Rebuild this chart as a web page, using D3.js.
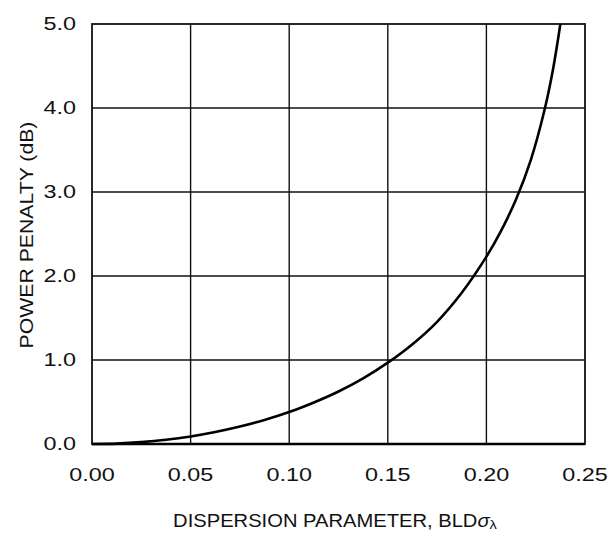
<!DOCTYPE html>
<html>
<head>
<meta charset="utf-8">
<script src="https://cdn.jsdelivr.net/npm/d3@7"></script>
<style>
  html, body { margin: 0; padding: 0; background: #fff; }
  text { font-family: "Liberation Sans", Arial, Helvetica, sans-serif; fill: #111; }
</style>
</head>
<body>
<svg id="chart" width="610" height="534"></svg>
<script>
// Data
const dispersion = [0, 0.0125, 0.025, 0.0375, 0.05, 0.0625, 0.075, 0.0875, 0.10, 0.1125, 0.125, 0.1375, 0.15, 0.1625, 0.175, 0.1875, 0.20, 0.2075, 0.215, 0.2225, 0.2294, 0.2337, 0.2375];
const penalty    = [0, 0.005, 0.022, 0.050, 0.090, 0.143, 0.208, 0.287, 0.38, 0.494, 0.625, 0.781, 0.968, 1.188, 1.455, 1.80, 2.23, 2.54, 2.91, 3.38, 3.97, 4.45, 5.0];
const xTicks = [0, 0.05, 0.10, 0.15, 0.20, 0.25];
const yTicks = [0, 1, 2, 3, 4, 5];
const xTickLabels = ["0.00", "0.05", "0.10", "0.15", "0.20", "0.25"];
const yTickLabels = ["0.0", "1.0", "2.0", "3.0", "4.0", "5.0"];
const xTitle = "DISPERSION PARAMETER, BLD";
const yTitle = "POWER PENALTY (dB)";

const m = {left: 92, right: 585, top: 24, bottom: 444};
const stretch = 1.3;
const svg = d3.select("#chart");

const x = d3.scaleLinear().domain([0, 0.25]).range([m.left, m.right]);
const y = d3.scaleLinear().domain([0, 5]).range([m.bottom, m.top]);

// grid
const grid = svg.append("g");
grid.selectAll("line.v").data(xTicks.slice(1, -1)).join("line")
  .attr("x1", d => x(d)).attr("x2", d => x(d))
  .attr("y1", m.top).attr("y2", m.bottom)
  .attr("stroke", "#111").attr("stroke-width", 1.4);
grid.selectAll("line.h").data(yTicks.slice(1, -1)).join("line")
  .attr("x1", m.left).attr("x2", m.right)
  .attr("y1", d => y(d)).attr("y2", d => y(d))
  .attr("stroke", "#111").attr("stroke-width", 1.4);

// frame
svg.append("rect")
  .attr("x", m.left).attr("y", m.top)
  .attr("width", m.right - m.left).attr("height", m.bottom - m.top)
  .attr("fill", "none").attr("stroke", "#111").attr("stroke-width", 1.8);
svg.append("line")
  .attr("x1", m.left).attr("x2", m.right).attr("y1", m.bottom).attr("y2", m.bottom)
  .attr("stroke", "#000").attr("stroke-width", 2.6);

// curve
const pts = dispersion.map((d, i) => [d, penalty[i]]);
svg.append("path")
  .datum(pts)
  .attr("fill", "none").attr("stroke", "#000").attr("stroke-width", 2.6)
  .attr("d", d3.line().x(d => x(d[0])).y(d => y(d[1])).curve(d3.curveCatmullRom.alpha(0.5)));

// x tick labels
svg.append("g").selectAll("text").data(xTicks).join("text")
  .attr("transform", d => `translate(${x(d)},481) scale(${stretch},1)`)
  .attr("text-anchor", "middle")
  .attr("font-size", 18)
  .text((d, i) => xTickLabels[i]);

// y tick labels
svg.append("g").selectAll("text").data(yTicks).join("text")
  .attr("transform", d => `translate(76,${y(d)}) scale(${stretch},1)`)
  .attr("text-anchor", "end")
  .attr("dy", "0.36em")
  .attr("font-size", 18)
  .text((d, i) => yTickLabels[i]);

// y title
svg.append("text")
  .attr("transform", `translate(33,235) rotate(-90) scale(1.18,1)`)
  .attr("text-anchor", "middle")
  .attr("font-size", 18)
  .text(yTitle);

// x title
const xt = svg.append("text")
  .attr("transform", `translate(335,527) scale(1.12,1)`)
  .attr("text-anchor", "middle")
  .attr("font-size", 18);
xt.append("tspan").text(xTitle);
xt.append("tspan").attr("font-style", "italic").text("σ");
xt.append("tspan").attr("font-size", 13).attr("dy", 2).text("λ");
</script>
</body>
</html>
